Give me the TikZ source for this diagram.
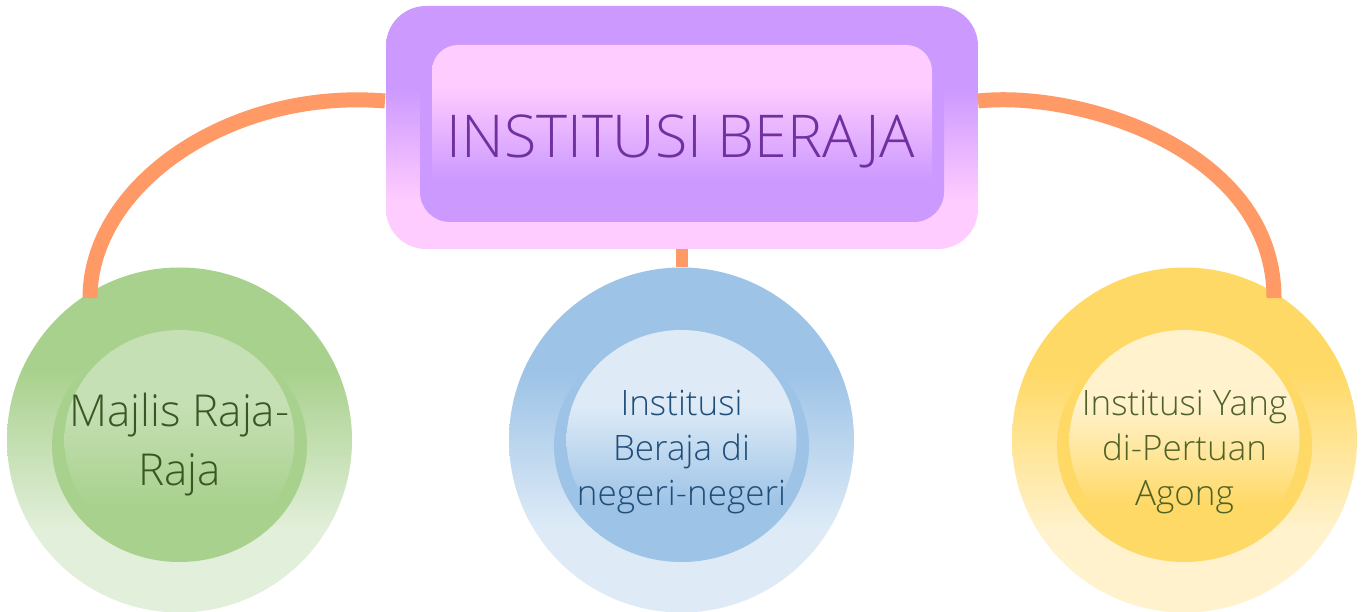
\documentclass[tikz,border=0pt]{standalone}
\usepackage{fontspec}
\setmainfont{Open Sans}[UprightFont={* Light}]
\definecolor{purp}{HTML}{CC99FF}
\definecolor{pinkL}{HTML}{FFCCFF}
\definecolor{orng}{HTML}{FF9966}
\definecolor{gD}{HTML}{A9D18E}
\definecolor{gL}{HTML}{E2EFDA}
\definecolor{gM}{HTML}{C5E0B4}
\definecolor{bD}{HTML}{9DC3E6}
\definecolor{bL}{HTML}{DEEBF7}
\definecolor{yD}{HTML}{FFD966}
\definecolor{yL}{HTML}{FFF2CC}
\definecolor{titletext}{HTML}{7030A0}
\definecolor{gtext}{HTML}{385723}
\definecolor{btext}{HTML}{1F4E79}
\definecolor{ytext}{HTML}{4F6228}
\pgfdeclareverticalshading{boxouter}{100bp}{color(0bp)=(pinkL); color(35bp)=(pinkL); color(58bp)=(purp); color(100bp)=(purp)}
\pgfdeclareverticalshading{boxhi}{100bp}{color(0bp)=(purp); color(33bp)=(purp); color(62bp)=(pinkL); color(100bp)=(pinkL)}
\pgfdeclareverticalshading{gout}{100bp}{color(0bp)=(gL); color(37bp)=(gL); color(60bp)=(gD); color(100bp)=(gD)}
\pgfdeclareverticalshading{bout}{100bp}{color(0bp)=(bL); color(37bp)=(bL); color(60bp)=(bD); color(100bp)=(bD)}
\pgfdeclareverticalshading{yout}{100bp}{color(0bp)=(yL); color(37bp)=(yL); color(60bp)=(yD); color(100bp)=(yD)}
\pgfdeclareverticalshading{ghi}{100bp}{color(0bp)=(gD); color(35bp)=(gD); color(58bp)=(gM); color(100bp)=(gM)}
\pgfdeclareverticalshading{bhi}{100bp}{color(0bp)=(bD); color(35bp)=(bD); color(58bp)=(bL); color(100bp)=(bL)}
\pgfdeclareverticalshading{yhi}{100bp}{color(0bp)=(yD); color(35bp)=(yD); color(58bp)=(yL); color(100bp)=(yL)}
\tikzset{
  conn/.style={draw=orng, line width=15pt},
  outercirc/.style={circle, minimum size=345pt, inner sep=0pt, draw=none},
  circtext/.style={align=center, inner sep=0pt},
}
\begin{document}
\begin{tikzpicture}[x=1pt, y=-1pt]
\useasboundingbox (0,0) rectangle (1366,612);
\fill[white] (0,0) rectangle (1366,612);
% circles
\node[outercirc, shading=gout] (gcirc) at (179.5,440) {};
\node[outercirc, shading=bout] (bcirc) at (681.5,440) {};
\node[outercirc, shading=yout] (ycirc) at (1184.5,440) {};
\foreach \cx/\c/\s in {179.5/gD/ghi, 681.5/bD/bhi, 1184.5/yD/yhi}{
  \fill[\c] (\cx,446) ellipse [x radius=127.5pt, y radius=116pt];
  \shade[shading=\s] (\cx,440) ellipse [x radius=115pt, y radius=110pt];
}
% top box
\node[draw=none, rounded corners=40pt, minimum width=592pt, minimum height=243pt, inner sep=0pt, shading=boxouter] (topbox) at (682,127.5) {};
\fill[purp, rounded corners=30pt] (420,62) rectangle (944,222);
\shade[shading=boxhi, rounded corners=26pt] (432,45) rectangle (932,205);
% connectors
\coordinate (tl) at (385,101);
\coordinate (tr) at (978,101);
\coordinate (gtop) at (90,298);
\coordinate (ytop) at (1274,298);
\draw[conn] (tl) .. controls (230,88) and (90,185) .. (gtop);
\draw[conn] (tr) .. controls (1080,90) and (1274,150) .. (ytop);
\draw[conn, line width=12pt] (topbox.south -| bcirc.north) -- (bcirc.north);
% texts
\node[text=titletext, font={\fontsize{59}{70}\selectfont}, anchor=base, inner sep=0pt] (title) at (681,158) {INSTITUSI BERAJA};
\node[circtext, text=gtext, font={\fontsize{44}{59}\selectfont}] (gt) at (179.5,445) {Majlis Raja-\\Raja};
\node[circtext, text=btext, font={\fontsize{35}{45}\selectfont}] (bt) at (681.5,452) {Institusi\\Beraja di\\negeri-negeri};
\node[circtext, text=ytext, font={\fontsize{35}{45}\selectfont}] (yt) at (1184.5,452) {Institusi Yang\\di-Pertuan\\Agong};
\end{tikzpicture}
\end{document}
